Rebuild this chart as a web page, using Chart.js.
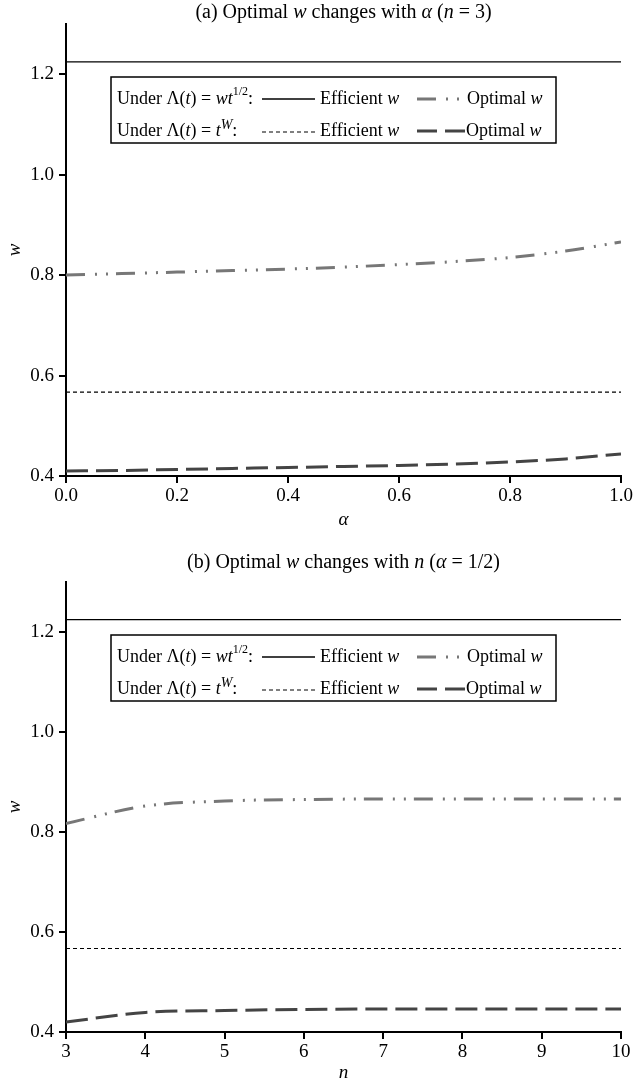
<!DOCTYPE html>
<html><head><meta charset="utf-8">
<script src="https://cdn.jsdelivr.net/npm/chart.js@4"></script>
<style>body{margin:0;background:#fff}canvas{display:block}</style>
</head><body>
<canvas id="c1" width="643" height="539"></canvas>
<canvas id="c2" width="643" height="539"></canvas>
<script>
// ---- data ----
const alphaGrid = [0, 0.1, 0.2, 0.3, 0.4, 0.5, 0.6, 0.7, 0.8, 0.9, 1.0];
const optimalSqrtByAlpha = [0.800, 0.803, 0.806, 0.809, 0.812, 0.816, 0.821, 0.827, 0.835, 0.848, 0.866];
const optimalPowByAlpha = [0.410, 0.411, 0.413, 0.415, 0.417, 0.419, 0.421, 0.424, 0.428, 0.434, 0.444];
const nGrid = [3, 4, 5, 6, 7, 8, 9, 10];
const optimalSqrtByN = [0.817, 0.852, 0.862, 0.865, 0.866, 0.866, 0.866, 0.866];
const optimalPowByN = [0.420, 0.439, 0.443, 0.445, 0.446, 0.446, 0.446, 0.446];
const efficientSqrt = 1.2247;
const efficientPow = 0.567;
const yTickValues = [0.4, 0.6, 0.8, 1.0, 1.2];
const alphaTickValues = [0, 0.2, 0.4, 0.6, 0.8, 1.0];
const nTickValues = [3, 4, 5, 6, 7, 8, 9, 10];
const titleA = [["(a) Optimal ", 0], ["w", 1], [" changes with ", 0], ["\u03b1", 1], [" (", 0], ["n", 1], [" = 3)", 0]];
const titleB = [["(b) Optimal ", 0], ["w", 1], [" changes with ", 0], ["n", 1], [" (", 0], ["\u03b1", 1], [" = 1/2)", 0]];

// ---- styling ----
const FAM = "'Liberation Serif','DejaVu Serif',serif";
const FS = 19;      // ticks / axis titles
const TFS = 20;     // chart titles
const LFS = 18;     // legend
const W = 643, H = 539;
const LEFT = 66, RIGHT = 621;

function fnt(size, it) { return (it ? 'italic ' : '') + size + 'px ' + FAM; }
function drawRich(ctx, segs, x, y, align, base) {
  let total = 0;
  const m = segs.map(s => {
    const size = s[2] || base, it = s[1];
    ctx.font = fnt(size, it);
    const w = ctx.measureText(s[0]).width;
    total += w;
    return {t: s[0], size, it, w, dy: s[3] || 0};
  });
  let cx = align === 'center' ? x - total / 2 : x;
  ctx.textBaseline = 'middle';
  ctx.textAlign = 'left';
  m.forEach(s => { ctx.font = fnt(s.size, s.it); ctx.fillText(s.t, cx, y + s.dy); cx += s.w; });
  return total;
}

const overlay = {
  id: 'overlay',
  afterDraw(chart, args, o) {
    const ctx = chart.ctx, ca = chart.chartArea;
    ctx.save();
    ctx.fillStyle = '#000';
    drawRich(ctx, o.title, (ca.left + ca.right) / 2, o.titleY, 'center', TFS);
    // legend box
    const bx = ca.left + 45, by = ca.top + 53, bw = 445, bh = 66;
    ctx.fillStyle = '#fff';
    ctx.fillRect(bx, by, bw, bh);
    ctx.strokeStyle = '#000'; ctx.lineWidth = 1.5; ctx.setLineDash([]);
    ctx.strokeRect(bx, by, bw, bh);
    ctx.fillStyle = '#000';
    const r1 = by + 22, r2 = by + 54;
    drawRich(ctx, [["Under \u039b(", 0], ["t", 1], [") = ", 0], ["wt", 1], ["1/2", 0, 12, -7], [":", 0]], bx + 6, r1, 'left', LFS);
    drawRich(ctx, [["Under \u039b(", 0], ["t", 1], [") = ", 0], ["t", 1], ["W", 1, 14, -6], [":", 0]], bx + 6, r2, 'left', LFS);
    drawRich(ctx, [["Efficient ", 0], ["w", 1]], bx + 209, r1, 'left', LFS);
    drawRich(ctx, [["Efficient ", 0], ["w", 1]], bx + 209, r2, 'left', LFS);
    drawRich(ctx, [["Optimal ", 0], ["w", 1]], bx + 356, r1, 'left', LFS);
    drawRich(ctx, [["Optimal ", 0], ["w", 1]], bx + 355, r2, 'left', LFS);
    const seg = (x1, x2, y, color, lw, dash) => {
      ctx.beginPath(); ctx.strokeStyle = color; ctx.lineWidth = lw; ctx.setLineDash(dash);
      ctx.moveTo(x1, y); ctx.lineTo(x2, y); ctx.stroke();
    };
    seg(bx + 151, bx + 204, r1, '#000', 1.3, []);
    seg(bx + 151, bx + 204, r2 + 1, '#000', 1.2, [4, 3]);
    seg(bx + 306, bx + 352, r1, '#777', 3, [19, 10, 2, 9, 2, 20]);
    seg(bx + 306, bx + 354, r2, '#444', 3, [20, 8]);
    ctx.restore();
  }
};

function makeChart(id, xs, optSqrt, optPow, xTicks, xMin, xMax, xFmt, xTitle, topPad, xScaleH, xTitlePad, title, titleY, smooth) {
  const pts = (a) => xs.map((x, i) => ({x, y: a[i]}));
  const flat = (v) => [{x: xMin, y: v}, {x: xMax, y: v}];
  return new Chart(document.getElementById(id), {
    type: 'line',
    data: {datasets: [
      {data: flat(efficientSqrt), borderColor: '#000', borderWidth: 1.3, pointRadius: 0},
      {data: pts(optSqrt), borderColor: '#777', borderWidth: 3, borderDash: [19, 10, 2, 9, 2, 8], pointRadius: 0, cubicInterpolationMode: 'monotone', tension: smooth},
      {data: flat(efficientPow), borderColor: '#000', borderWidth: 1.2, borderDash: [4, 3], pointRadius: 0},
      {data: pts(optPow), borderColor: '#444', borderWidth: 3, borderDash: [22, 8], pointRadius: 0, cubicInterpolationMode: 'monotone', tension: smooth}
    ]},
    options: {
      responsive: false, animation: false, devicePixelRatio: 1,
      layout: {padding: {left: 0, right: W - RIGHT, top: topPad, bottom: 0}},
      plugins: {legend: {display: false}, tooltip: {enabled: false}, overlay: {title, titleY}},
      scales: {
        x: {
          type: 'linear', min: xMin, max: xMax,
          afterBuildTicks: (s) => { s.ticks = xTicks.map(v => ({value: v})); },
          afterFit: (s) => { s.height = xScaleH; s.paddingLeft = 0; s.paddingRight = 0; },
          ticks: {color: '#000', font: {family: FAM, size: FS}, padding: 2, maxRotation: 0, autoSkip: false, callback: xFmt},
          grid: {drawOnChartArea: false, color: '#000', lineWidth: 2, tickLength: 7},
          border: {color: '#000', width: 2},
          title: {display: true, text: xTitle, color: '#000', font: {family: FAM, size: FS, style: 'italic'}, padding: {top: 0, bottom: xTitlePad}}
        },
        y: {
          type: 'linear', min: 0.4, max: 1.3,
          afterBuildTicks: (s) => { s.ticks = yTickValues.map(v => ({value: v})); },
          afterFit: (s) => { s.width = LEFT; s.paddingTop = 0; s.paddingBottom = 0; },
          ticks: {color: '#000', font: {family: FAM, size: FS}, padding: 5, callback: (v) => v.toFixed(1)},
          grid: {drawOnChartArea: false, color: '#000', lineWidth: 2, tickLength: 7},
          border: {color: '#000', width: 2},
          title: {display: true, text: 'w', color: '#000', font: {family: FAM, size: FS, style: 'italic'}, padding: {top: 4, bottom: 0}}
        }
      }
    },
    plugins: [overlay]
  });
}

makeChart('c1', alphaGrid, optimalSqrtByAlpha, optimalPowByAlpha, alphaTickValues, 0, 1, (v) => Number(v).toFixed(1), '\u03b1', 24, H - 476, 8, titleA, 13, 0.4);
makeChart('c2', nGrid, optimalSqrtByN, optimalPowByN, nTickValues, 3, 10, (v) => String(v), 'n', 43, H - 493, -6, titleB, 24, 0);
</script>
</body></html>
